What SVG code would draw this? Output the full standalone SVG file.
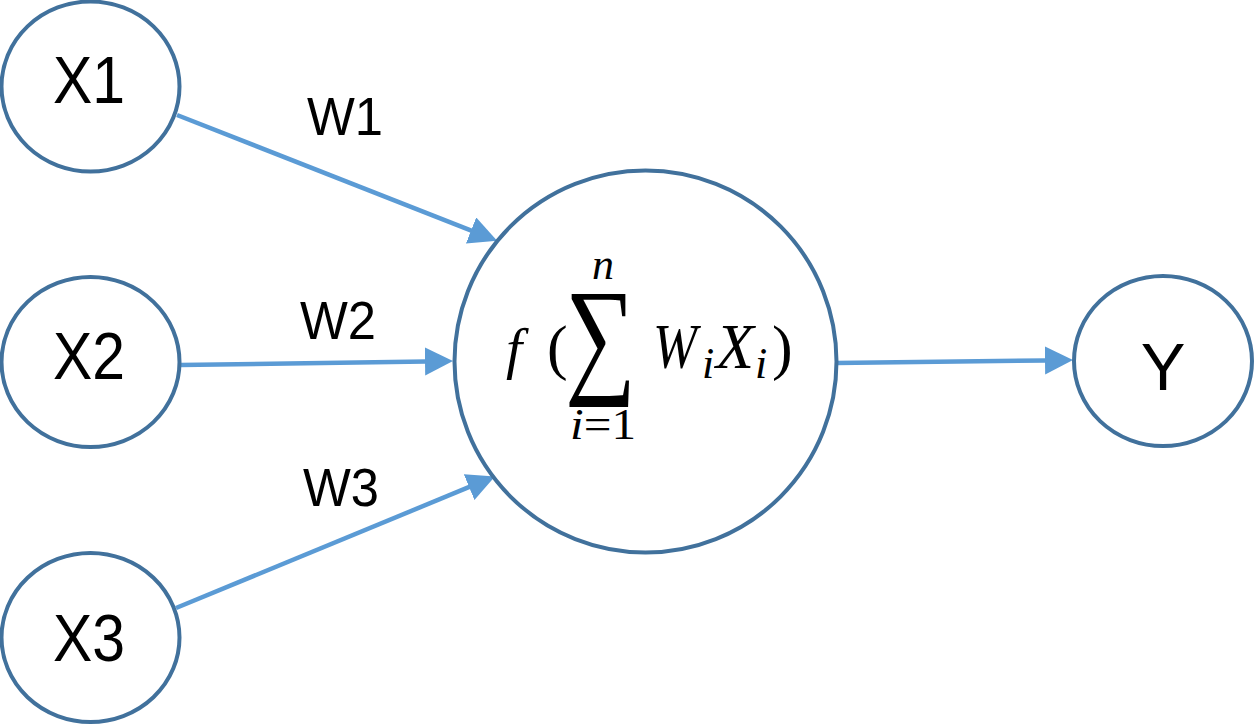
<svg xmlns="http://www.w3.org/2000/svg" width="1254" height="727" viewBox="0 0 1254 727">
<style>
.node{fill:#ffffff;stroke:#41719C;stroke-width:4}
.lbl{font-family:"Liberation Sans",Arial,sans-serif;font-size:67px;fill:#000;text-anchor:middle}
.w{font-family:"Liberation Sans",Arial,sans-serif;font-size:53px;fill:#000;text-anchor:middle}
.edge{stroke:#5B9BD5;stroke-width:4.5;fill:none}
.m{font-family:"Liberation Serif","Times New Roman",serif;fill:#000}
.it{font-style:italic}
</style>
<defs>
<marker id="ah" markerUnits="userSpaceOnUse" markerWidth="30" markerHeight="30" refX="1" refY="14" orient="auto">
<path d="M0,0 L28,14 L0,28 z" fill="#5B9BD5"/>
</marker>
</defs>
<rect width="1254" height="727" fill="#ffffff"/>
<g id="connectors">
<line class="edge" x1="177" y1="115" x2="472" y2="230.8" marker-end="url(#ah)"/>
<line class="edge" x1="180" y1="365" x2="426" y2="361.4" marker-end="url(#ah)"/>
<line class="edge" x1="176" y1="608" x2="470" y2="486.7" marker-end="url(#ah)"/>
<line class="edge" x1="836" y1="363" x2="1046" y2="360.4" marker-end="url(#ah)"/>
<text class="w" x="345" y="135" textLength="76" lengthAdjust="spacingAndGlyphs">W1</text>
<text class="w" x="338" y="339" textLength="76" lengthAdjust="spacingAndGlyphs">W2</text>
<text class="w" x="341" y="506" textLength="76" lengthAdjust="spacingAndGlyphs">W3</text>
</g>
<g id="x1">
<ellipse class="node" cx="90.5" cy="86.5" rx="89" ry="85"/>
<text class="lbl" x="89" y="103" textLength="72" lengthAdjust="spacingAndGlyphs">X1</text>
</g>
<g id="x2">
<ellipse class="node" cx="90.5" cy="362" rx="89" ry="85"/>
<text class="lbl" x="89" y="379" textLength="72" lengthAdjust="spacingAndGlyphs">X2</text>
</g>
<g id="x3">
<ellipse class="node" cx="90.5" cy="637.5" rx="89" ry="84.5"/>
<text class="lbl" x="89" y="661" textLength="72" lengthAdjust="spacingAndGlyphs">X3</text>
</g>
<g id="neuron">
<ellipse class="node" cx="645.5" cy="361.5" rx="191" ry="191"/>
<text class="m it" x="506" y="368" font-size="58">f</text>
<text class="m" x="547" y="368" font-size="62">(</text>
<text class="m" x="565" y="379" font-size="130" textLength="71" lengthAdjust="spacingAndGlyphs">∑</text>
<text class="m it" x="592" y="279" font-size="44">n</text>
<text class="m" x="570" y="439" font-size="44" textLength="66" lengthAdjust="spacingAndGlyphs"><tspan class="it">i</tspan>=1</text>
<text class="m it" x="653" y="368" font-size="64" textLength="44" lengthAdjust="spacingAndGlyphs">W</text>
<text class="m it" x="702" y="378" font-size="44">i</text>
<text class="m it" x="716" y="368" font-size="64" textLength="38" lengthAdjust="spacingAndGlyphs">X</text>
<text class="m it" x="755" y="378" font-size="44">i</text>
<text class="m" x="772" y="368" font-size="62">)</text>
</g>
<g id="y">
<ellipse class="node" cx="1163" cy="361" rx="89" ry="85"/>
<text class="lbl" x="1163" y="390">Y</text>
</g>
</svg>
